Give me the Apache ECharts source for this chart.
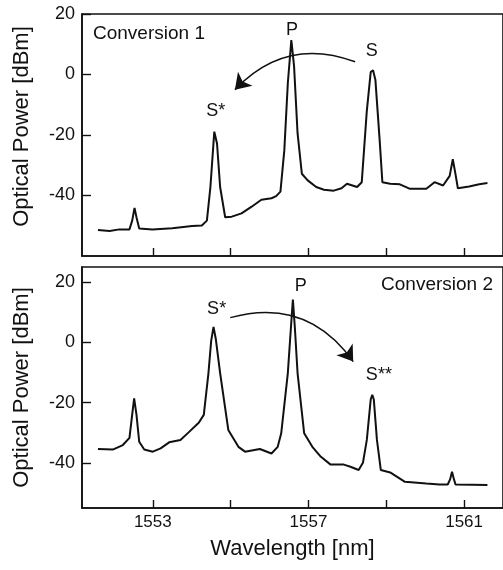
<!DOCTYPE html>
<html>
<head>
<meta charset="utf-8">
<script src="https://cdn.jsdelivr.net/npm/echarts@6/dist/echarts.min.js"></script>
<style>
html,body{margin:0;padding:0;background:#fff;}
#chart{width:503px;height:570px;}
</style>
</head>
<body>
<div id="chart"></div>
<script>
// ---- Data ----
const topWavelength = [1551.59,1551.89,1552.14,1552.40,1552.47,1552.53,1552.58,1552.65,1552.99,1553.50,1554.01,1554.26,1554.39,1554.48,1554.58,1554.65,1554.73,1554.86,1555.03,1555.28,1555.54,1555.79,1556.05,1556.17,1556.28,1556.38,1556.47,1556.56,1556.63,1556.72,1556.83,1556.98,1557.20,1557.40,1557.65,1557.85,1557.99,1558.25,1558.37,1558.50,1558.60,1558.66,1558.72,1558.83,1558.90,1559.10,1559.35,1559.61,1560.03,1560.24,1560.46,1560.63,1560.71,1560.78,1560.84,1561.13,1561.39,1561.60];
const topPower      = [-51.4,-51.7,-51.2,-51.2,-48.3,-44.1,-47.2,-50.9,-51.2,-50.8,-50.1,-49.9,-48.3,-37.2,-18.9,-22.8,-37.2,-47.2,-47.0,-45.9,-43.7,-41.4,-40.9,-40.2,-38.7,-25.0,-2.8,11.4,2.8,-19.4,-32.8,-35.0,-37.2,-38.1,-38.4,-37.6,-36.1,-37.2,-35.6,-12.0,0.8,1.4,-1.7,-21.7,-35.6,-36.1,-36.3,-37.8,-37.8,-35.6,-36.7,-33.5,-28.0,-33.0,-37.6,-37.0,-36.3,-35.9];

const bottomWavelength = [1551.59,1551.97,1552.23,1552.40,1552.47,1552.52,1552.58,1552.65,1552.78,1553.00,1553.20,1553.42,1553.71,1553.92,1554.18,1554.31,1554.43,1554.50,1554.56,1554.62,1554.73,1554.94,1555.20,1555.37,1555.75,1556.05,1556.21,1556.30,1556.47,1556.55,1556.60,1556.65,1556.72,1556.89,1557.10,1557.32,1557.57,1557.91,1558.08,1558.29,1558.40,1558.50,1558.60,1558.64,1558.68,1558.76,1558.86,1559.10,1559.48,1560.03,1560.37,1560.58,1560.64,1560.69,1560.74,1560.78,1561.60];
const bottomPower      = [-35.4,-35.6,-34.1,-31.7,-24.0,-18.6,-24.0,-33.0,-35.6,-36.3,-35.2,-33.2,-32.4,-29.9,-26.7,-24.1,-10.2,0.5,5.1,1.0,-10.2,-29.1,-34.7,-36.3,-35.4,-36.9,-34.7,-30.2,-10.2,5.0,14.2,5.0,-10.2,-30.2,-34.7,-38.0,-40.6,-40.6,-41.3,-42.4,-40.0,-32.4,-19.0,-17.4,-19.0,-32.4,-42.4,-43.2,-46.3,-46.9,-47.2,-47.2,-45.5,-43.0,-45.5,-47.2,-47.4];

// ---- Axis ticks / labels ----
const xTickValues  = [1553, 1555, 1557, 1559, 1561];
const xLabelValues = [1553, 1557, 1561];
const yTickValues  = [-40, -20, 0, 20];
const xRange = [1551.18, 1562.0];
const topYRange = [-60, 20];
const bottomYRange = [-55, 25];

// ---- Annotations ----
const topLabels = [
  {value: [1556.58, 14.7], text: 'P'},
  {value: [1558.63, 7.7], text: 'S'},
  {value: [1554.62, -12.2], text: 'S*'}
];
const bottomLabels = [
  {value: [1556.80, 18.7], text: 'P'},
  {value: [1554.64, 11.1], text: 'S*'},
  {value: [1558.81, -10.8], text: 'S**'}
];
const topArrow = [[1558.20, 4.2], [1555.11, -5.0]];
const bottomArrow = [[1554.99, 8.2], [1558.15, -6.4]];

const FONT = "'Liberation Sans', Arial, Helvetica, sans-serif";
const INK = '#111';

function pairs(xs, ys) { return xs.map((x, i) => [x, ys[i]]); }

function xAxisCfg(gridIndex, showLabels) {
  return {
    type: 'value', gridIndex: gridIndex, min: xRange[0], max: xRange[1],
    position: 'bottom',
    name: showLabels ? 'Wavelength [nm]' : '',
    nameLocation: 'middle', nameGap: 30,
    nameTextStyle: {fontFamily: FONT, fontSize: 22, color: INK},
    axisLine: {show: true, onZero: false, lineStyle: {color: INK, width: 1.6}},
    axisTick: {show: true, inside: true, length: 8, customValues: xTickValues, lineStyle: {color: INK, width: 1.4}},
    axisLabel: {show: showLabels, customValues: xLabelValues, margin: 6, fontFamily: FONT, fontSize: 17, color: INK,
                formatter: v => String(Math.round(v))},
    splitLine: {show: false}
  };
}
function yAxisCfg(gridIndex, range, pad) {
  return {
    type: 'value', gridIndex: gridIndex, min: range[0], max: range[1],
    name: 'Optical Power [dBm]', nameLocation: 'middle', nameGap: 49,
    nameTextStyle: {fontFamily: FONT, fontSize: 22, color: INK, padding: pad},
    axisLine: {show: true, onZero: false, lineStyle: {color: INK, width: 1.6}},
    axisTick: {show: true, inside: true, length: 9, customValues: yTickValues, lineStyle: {color: INK, width: 1.4}},
    axisLabel: {show: true, customValues: yTickValues, margin: 7, fontFamily: FONT, fontSize: 18, color: INK,
                formatter: v => String(Math.round(v))},
    splitLine: {show: false}
  };
}
function labelSeries(idx, items) {
  return {
    type: 'scatter', xAxisIndex: idx, yAxisIndex: idx, symbolSize: 1, silent: true,
    itemStyle: {color: 'rgba(0,0,0,0)'},
    data: items.map(d => ({value: d.value, name: d.text})),
    label: {show: true, position: 'inside', formatter: p => p.name,
            fontFamily: FONT, fontSize: 18, color: INK,
            textBorderWidth: 0, textBorderColor: 'transparent', opacity: 1},
    z: 5
  };
}
function arrowSeries(idx, coords, curveness) {
  return {
    type: 'lines', coordinateSystem: 'cartesian2d', xAxisIndex: idx, yAxisIndex: idx,
    symbol: ['none', 'arrow'], symbolSize: [9, 15], silent: true,
    lineStyle: {color: INK, width: 1.5, curveness: curveness, opacity: 1},
    itemStyle: {color: INK},
    data: [{coords: coords}],
    z: 4
  };
}

const chart = echarts.init(document.getElementById('chart'), null, {renderer: 'canvas'});
chart.setOption({
  animation: false,
  backgroundColor: '#fff',
  grid: [
    {left: 82, right: -4, top: 14, height: 242, show: true, borderColor: INK, borderWidth: 1.6, backgroundColor: 'transparent'},
    {left: 82, right: -4, top: 267, height: 241, show: true, borderColor: INK, borderWidth: 1.6, backgroundColor: 'transparent'}
  ],
  xAxis: [xAxisCfg(0, false), xAxisCfg(1, true)],
  yAxis: [yAxisCfg(0, topYRange, [0, 0, 0, 17]), yAxisCfg(1, bottomYRange, [0, 0, 0, 0])],
  graphic: [
    {type: 'text', left: 93, top: 24, style: {text: 'Conversion 1', font: '19px ' + FONT, fill: INK}},
    {type: 'text', right: 10, top: 275, style: {text: 'Conversion 2', font: '19px ' + FONT, fill: INK}}
  ],
  series: [
    {type: 'line', xAxisIndex: 0, yAxisIndex: 0, data: pairs(topWavelength, topPower),
     showSymbol: false, smooth: false, lineStyle: {color: INK, width: 2}, z: 3},
    {type: 'line', xAxisIndex: 1, yAxisIndex: 1, data: pairs(bottomWavelength, bottomPower),
     showSymbol: false, smooth: false, lineStyle: {color: INK, width: 2}, z: 3},
    labelSeries(0, topLabels),
    labelSeries(1, bottomLabels),
    arrowSeries(0, topArrow, -0.33),
    arrowSeries(1, bottomArrow, 0.35)
  ]
});
</script>
</body>
</html>
